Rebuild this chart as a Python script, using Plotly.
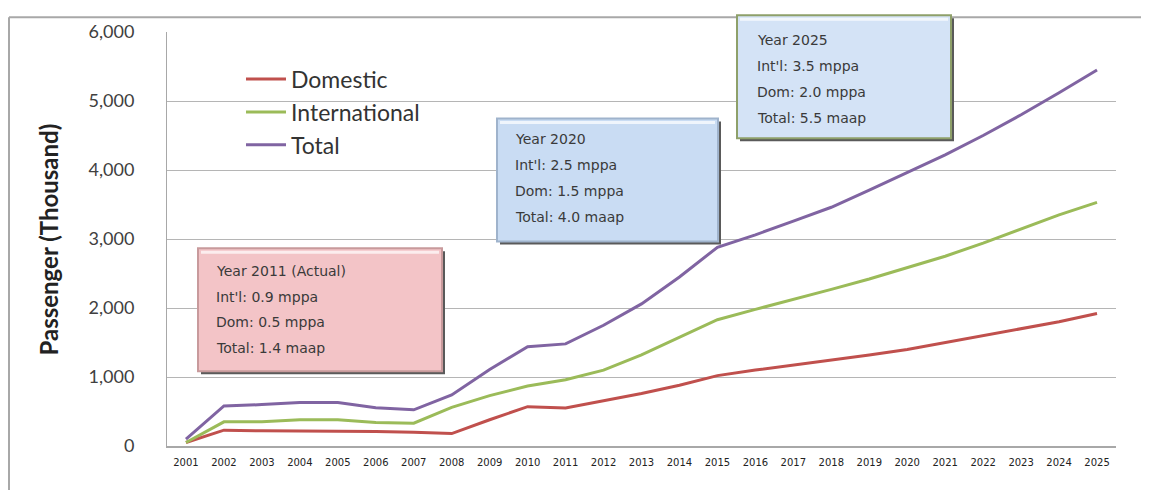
import plotly.graph_objects as go

years = [str(y) for y in range(2001, 2026)]
domestic = [50, 230, 220, 220, 220, 210, 200, 180, 380, 570, 550, 650, 760, 880, 1020,
            1100, 1170, 1240, 1320, 1400, 1500, 1610, 1700, 1800, 1920]
international = [50, 350, 350, 380, 380, 340, 330, 560, 730, 870, 960, 1100, 1320, 1570, 1830,
                 1980, 2120, 2270, 2420, 2580, 2750, 2940, 3150, 3350, 3530]
total = [100, 580, 600, 630, 630, 555, 525, 740, 1110, 1440, 1480, 1750, 2060, 2450, 2880,
         3060, 3260, 3460, 3710, 3960, 4220, 4500, 4800, 5120, 5450]

series_names = ["Domestic", "International", "Total"]
series_colors = ["#C0504D", "#9BBB59", "#8064A2"]

box_2011 = ["Year 2011 (Actual)", "Int'l: 0.9 mppa", "Dom: 0.5 mppa", "Total: 1.4 maap"]
box_2020 = ["Year 2020", "Int'l: 2.5 mppa", "Dom: 1.5 mppa", "Total: 4.0 maap"]
box_2025 = ["Year 2025", "Int'l: 3.5 mppa", "Dom: 2.0 mppa", "Total: 5.5 maap"]

W, H = 1149, 490
OFF = 8  # page body margin in the screenshot
SL, SR, ST, SB = 167, 1116, 25, 446
L, R, T, B = SL - OFF, SR - OFF, ST - OFF, SB - OFF
pw, ph = R - L, B - T


def px(x):
    return (x - SL) / pw


def py(y):
    return (SB - y) / ph


fig = go.Figure()
for name, vals, col in zip(series_names, [domestic, international, total], series_colors):
    fig.add_trace(go.Scatter(x=years, y=vals, mode="lines", name=name,
                             line=dict(color=col, width=3)))

shapes = []
annotations = []

shapes.append(dict(type="line", xref="paper", yref="paper", x0=px(9), x1=px(1170),
                   y0=py(10), y1=py(10), line=dict(color="#A8A8A8", width=2), layer="below"))
shapes.append(dict(type="line", xref="paper", yref="paper", x0=px(9), x1=px(9),
                   y0=py(10), y1=py(510), line=dict(color="#A8A8A8", width=2), layer="below"))


def add_box(x0, y0, x1, y1, fill, edge, lines, tx, ty0, dy):
    shapes.append(dict(type="rect", xref="paper", yref="paper",
                       x0=px(x0 + 3), x1=px(x1 + 3), y0=py(y1 + 3), y1=py(y0 + 3),
                       fillcolor="#5A5A5A", line=dict(width=0)))
    shapes.append(dict(type="rect", xref="paper", yref="paper",
                       x0=px(x0), x1=px(x1), y0=py(y1), y1=py(y0),
                       fillcolor=fill, line=dict(color=edge, width=2)))
    shapes.append(dict(type="line", xref="paper", yref="paper",
                       x0=px(x0 + 3), x1=px(x1 - 3), y0=py(y0 + 4), y1=py(y0 + 4),
                       line=dict(color="rgba(255,255,255,0.7)", width=3)))
    for i, t in enumerate(lines):
        annotations.append(dict(xref="paper", yref="paper", x=px(tx), y=py(ty0 + i * dy),
                                xanchor="left", yanchor="middle", showarrow=False, text=t,
                                font=dict(family="DejaVu Sans", size=14, color="#3A3A3A")))


add_box(198, 245, 442, 370, "#F3C4C7", "#C89A9C", box_2011, 214, 268, 26)
add_box(497, 113, 718, 238, "#C9DCF3", "#9FB3CC", box_2020, 513, 134, 26.5)
add_box(737, 8, 951, 133, "#D4E3F6", "#8EA06A", box_2025, 755, 33, 26.5)

annotations.append(dict(xref="paper", yref="paper", x=px(48), y=py(236), text="<b>Passenger (Thousand)</b>",
                        textangle=-90, showarrow=False, xanchor="center", yanchor="middle",
                        font=dict(family="Lato", size=24, color="#222222")))

fig.update_layout(
    width=W, height=H,
    margin=dict(l=L, r=W - R, t=T, b=H - B, pad=0),
    paper_bgcolor="white", plot_bgcolor="white",
    shapes=shapes, annotations=annotations,
    showlegend=True,
    legend=dict(x=px(241), y=py(51), xanchor="left", yanchor="top",
                font=dict(family="Lato", size=23, color="#333333"),
                bgcolor="rgba(0,0,0,0)", itemwidth=40, tracegroupgap=0),
    xaxis=dict(type="category", range=[-0.5, 24.5], showgrid=False,
               showline=True, linecolor="#A8A8A8", linewidth=2, ticks="",
               tickfont=dict(family="DejaVu Sans", size=10, color="#222222"),
               ticklabelstandoff=6, fixedrange=True),
    yaxis=dict(range=[0, 6000], dtick=1000, tickformat=",", showgrid=True,
               gridcolor="#B5B5B5", gridwidth=1, showline=True, linecolor="#A8A8A8",
               linewidth=1, zeroline=False, ticks="",
               tickfont=dict(family="Lato", size=18, color="#404040"),
               ticklabelstandoff=28),
)

fig.write_html("out.html")
